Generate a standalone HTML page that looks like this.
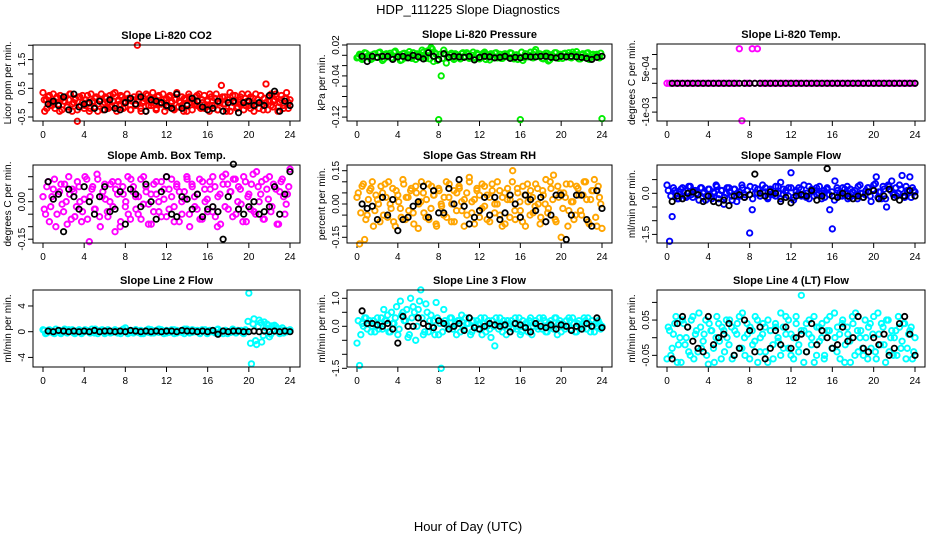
<!DOCTYPE html>
<html><head><meta charset="utf-8"><style>
body{margin:0;background:#fff;}
svg{display:block;font-family:"Liberation Sans",sans-serif;}
</style></head><body>
<svg id="c" width="936" height="540" viewBox="0 0 936 540">
<text x="468" y="14" text-anchor="middle" font-size="13">HDP_111225  Slope Diagnostics</text>
<text x="468" y="531" text-anchor="middle" font-size="13">Hour of Day (UTC)</text>
</svg>
<script>
const xTicks=[0,4,8,12,16,20,24];
const titles=["Slope Li-820 CO2","Slope Li-820 Pressure","Slope Li-820 Temp.","Slope Amb. Box Temp.","Slope Gas Stream RH","Slope Sample Flow","Slope Line 2 Flow","Slope Line 3 Flow","Slope Line 4 (LT) Flow"];
const yTitles=["Licor ppm per min.","kPa per min.","degrees C per min.","degrees C per min.","percent per min.","ml/min per min.","ml/min per min.","ml/min per min.","ml/min per min."];
const yTickVals=[[-0.5,0,0.5,1,1.5,2],[0.02,0,-0.02,-0.04,-0.06,-0.08,-0.1,-0.12],[-0.001,-0.0005,0,0.0005,0.001],[-0.15,-0.1,-0.05,0,0.05,0.1],[-0.15,-0.1,-0.05,0,0.05,0.1,0.15],[-1.5,-1,-0.5,0,0.5],[-4,0,4],[-1.5,-1,-0.5,0,0.5,1],[-0.05,0,0.05,0.1]];
const yTickLabels=[["-0.5","","0.5","","1.5",""],["0.02","","","-0.04","","","","-0.12"],["-1e-03","","","5e-04",""],["-0.15","","","0.00","",""],["-0.15","","","0.00","","","0.15"],["-1.5","","","0.0",""],["-4","0","4"],["-1.5","","","0.0","","1.0"],["-0.05","","0.05",""]];
const s1=[0.35,-0.3,0.1,0.2,-0.1,0.0,0.3,-0.2,0.15,-0.05,0.25,-0.25,0.05,0.2,-0.15,0.1,0.3,-0.3,0.0,0.15,-0.65,0.2,-0.1,0.25,-0.2,0.1,0.0,-0.3,0.3,0.05,-0.15,0.2,-0.05,0.1,0.3,-0.25,0.0,0.15,-0.2,0.25,-0.1,0.05,0.35,-0.3,0.1,-0.05,0.2,0.0,-0.15,0.3,0.1,-0.25,0.05,0.2,-0.1,2.0,0.3,-0.2,0.0,0.15,-0.3,0.25,0.05,-0.1,0.35,0.1,-0.25,0.2,-0.05,0.0,0.3,-0.3,0.15,-0.1,0.25,0.05,-0.2,0.1,0.35,-0.15,0.0,0.2,-0.3,0.1,-0.05,0.3,0.15,-0.25,0.05,0.2,-0.1,0.3,-0.2,0.0,0.25,-0.15,0.1,-0.3,0.2,0.05,-0.1,0.3,-0.25,0.15,0.6,-0.05,0.2,-0.3,0.1,0.35,-0.15,0.0,0.25,-0.2,0.1,-0.05,0.3,-0.25,0.15,0.05,-0.1,0.2,0.0,-0.3,0.3,0.1,-0.2,0.25,-0.05,0.15,0.65,-0.25,0.05,0.3,-0.15,0.1,0.2,-0.3,0.0,0.25,-0.1,0.15,0.35,-0.2,0.1];
const s2=[-0.005,0.002,-0.008,0.005,-0.002,0.0,-0.006,0.003,-0.004,0.006,-0.01,0.001,-0.003,0.004,-0.007,0.008,-0.002,-0.01,0.003,-0.005,0.001,-0.004,0.005,-0.008,0.0,-0.003,0.006,-0.006,0.009,0.015,-0.012,0.002,-0.125,-0.04,0.01,-0.015,-0.003,0.004,-0.008,0.001,-0.005,0.003,-0.002,0.005,-0.006,0.0,-0.004,0.004,-0.007,0.002,0.006,-0.003,-0.009,0.001,0.004,-0.005,0.002,-0.006,0.003,-0.002,0.005,-0.004,0.0,-0.008,-0.125,-0.01,0.003,-0.003,0.006,-0.005,0.011,-0.002,0.002,-0.007,0.004,-0.011,0.001,-0.004,0.005,-0.006,0.0,0.003,-0.003,0.005,-0.005,0.002,0.007,-0.007,0.001,-0.004,0.004,-0.008,0.0,-0.003,0.002,-0.005,-0.123];
const s3=[0,0,0,0,0,0,0,0,0,0,0,0,0,0,0,0,0,0,0,0,0,0,0,0,0,0,0,0,0.0012,-0.0013,0,0,0,0.0012,0,0.0012,0,0,0,0,0,0,0,0,0,0,0,0,0,0,0,0,0,0,0,0,0,0,0,0,0,0,0,0,0,0,0,0,0,0,0,0,0,0,0,0,0,0,0,0,0,0,0,0,0,0,0,0,0,0,0,0,0,0,0,0,0];
const s4=[0.02,-0.05,0.08,-0.02,0.05,-0.1,0.03,0.07,-0.04,0.0,0.1,-0.07,0.04,-0.02,0.06,-0.08,0.01,0.09,-0.16,0.05,-0.03,0.11,-0.06,0.02,0.07,-0.04,0.0,0.08,-0.12,0.03,-0.1,0.06,-0.02,0.1,-0.07,0.04,0.02,-0.05,0.09,-0.01,0.06,-0.09,0.03,-0.04,0.08,0.0,-0.06,0.05,0.1,-0.03,0.02,-0.08,0.07,0.04,-0.05,0.01,0.09,-0.1,0.06,-0.02,0.03,-0.07,0.08,0.0,-0.04,0.05,0.1,-0.06,0.02,-0.09,0.07,0.11,-0.03,0.04,0.09,-0.05,0.06,-0.01,0.1,-0.08,0.03,0.07,-0.04,0.12,0.0,0.08,-0.07,0.05,0.1,-0.02,0.06,-0.09,0.04,0.09,-0.05,0.03,0.13];
const s5=[0.03,-0.18,0.08,-0.16,-0.05,0.06,0.1,-0.03,0.02,-0.08,0.05,0.09,-0.06,0.0,0.07,-0.1,0.04,-0.02,0.11,-0.07,0.03,0.06,-0.04,0.08,-0.11,0.01,0.05,-0.06,0.09,-0.02,0.04,-0.09,0.07,0.0,-0.05,0.1,0.03,-0.08,0.06,-0.03,0.08,0.01,-0.1,0.05,0.12,-0.04,0.02,0.07,-0.06,0.09,-0.01,0.04,-0.08,0.06,0.0,0.1,-0.05,0.03,-0.09,0.07,0.02,0.15,-0.07,0.05,-0.03,0.08,-0.1,0.01,0.06,-0.04,0.09,0.0,-0.06,0.04,0.11,-0.02,0.07,0.13,-0.08,0.03,-0.15,0.05,0.09,-0.03,0.01,-0.07,0.08,0.04,-0.05,0.1,0.02,-0.09,0.06,0.11,-0.1,0.03,-0.11];
const s6=[0.3,-1.75,-0.85,0.1,-0.2,0.05,0.2,-0.1,0.0,0.25,-0.15,0.1,-0.05,0.2,0.0,-0.25,0.15,-0.1,0.05,0.3,-0.2,0.1,-0.4,0.0,0.2,-0.1,0.15,-0.3,0.05,0.3,-0.15,0.1,-1.45,-0.6,0.2,0.0,-0.1,0.3,0.05,-0.2,0.15,0.0,-0.1,0.25,0.4,-0.05,0.1,0.2,0.75,-0.15,0.05,0.2,-0.1,0.3,0.0,-0.2,0.15,0.1,-0.05,0.25,0.0,-0.15,0.2,-0.6,-1.3,0.45,0.1,-0.1,0.2,0.0,-0.2,0.15,0.05,-0.1,0.25,0.0,-0.15,0.1,0.2,-0.3,0.3,0.6,0.05,-0.2,0.15,-0.5,0.25,0.45,0.0,-0.1,0.3,0.65,-0.15,0.1,0.6,0.2,0.05];
const s7=[0.3,-0.3,0.2,0.0,-0.2,0.4,0.1,-0.3,0.2,-0.1,0.3,0.0,-0.2,0.1,0.3,-0.3,0.0,0.2,-0.1,0.4,-0.2,0.1,0.0,0.3,-0.3,0.2,0.1,-0.1,0.3,-0.2,0.0,0.2,0.6,-0.3,0.1,0.0,0.3,-0.1,0.2,-0.3,0.1,0.4,-0.2,0.0,0.2,-0.1,0.3,0.0,-0.2,0.1,0.3,-0.3,0.2,0.0,-0.1,0.4,0.1,-0.2,0.3,0.0,0.2,-0.3,0.1,0.3,-0.1,0.0,0.2,-0.2,0.4,0.1,-0.3,0.2,0.0,-0.1,0.3,-0.2,0.1,0.2,-0.3,0.0,6.0,-5.0,2.0,-2.0,1.8,-1.6,1.5,1.2,-0.8,0.9,1.0,0.5,-0.3,0.6,0.2,0.0,0.3];
const s8=[-0.6,-1.4,0.1,0.3,-0.1,0.2,0.0,-0.2,0.3,0.1,-0.1,0.2,0.4,-0.2,0.1,0.3,-0.3,0.9,0.5,0.2,-0.4,1.0,0.7,-0.5,0.6,1.3,-0.3,0.8,-0.2,0.4,0.2,0.85,-0.3,-1.5,0.6,0.1,-0.1,0.3,0.0,-0.3,0.2,0.4,-0.1,0.1,0.3,-0.2,0.0,0.2,0.1,-0.3,0.3,0.0,-0.1,0.2,-0.7,0.1,0.3,-0.2,0.0,0.2,0.1,-0.1,0.3,0.0,-0.3,0.2,0.1,-0.2,0.3,0.0,0.2,-0.1,0.1,0.3,-0.2,0.0,0.2,-0.1,0.3,0.1,-0.2,0.0,0.2,0.3,-0.1,0.1,-0.2,0.2,0.0,0.3,-0.1,0.1,0.2,-0.2,0.0,0.1,0.0];
const s9=[-0.06,0.02,-0.03,0.04,-0.07,0.0,0.05,-0.02,0.03,-0.05,0.06,0.01,-0.04,0.03,-0.01,0.05,-0.075,0.02,-0.03,0.0,0.04,-0.06,0.02,0.05,-0.02,0.03,-0.05,0.01,0.06,-0.03,0.0,0.04,-0.06,0.02,-0.01,0.05,-0.04,0.01,0.03,-0.07,0.02,-0.02,0.04,0.0,-0.05,0.03,0.06,-0.03,0.01,-0.06,0.04,-0.02,0.12,0.02,-0.04,0.05,0.0,-0.07,0.03,-0.01,0.04,-0.05,0.02,0.06,-0.03,0.0,0.03,-0.06,0.05,-0.02,0.01,-0.07,0.04,0.07,-0.04,0.02,-0.05,0.0,0.03,-0.03,0.06,-0.06,0.01,0.04,-0.02,0.05,-0.04,0.02,0.0,-0.05,0.03,-0.01,0.04,-0.03,0.02,-0.06,0.0];
const t1=[0.1,-0.2,0.25,-0.1,0.0,0.2,-0.3,0.15,0.05,-0.15,0.3,-0.05,0.1,-0.25,0.2,0.0,-0.1,0.25,-0.2,0.05,0.15,-0.3,0.1,-0.05,0.2,0.0,-0.15,0.3,-0.1,0.05,0.25,-0.2,0.0,0.15,-0.25,0.1,-0.05,0.2,-0.3,0.05,0.3,-0.1,0.0,0.15,-0.2,0.25,-0.05,0.1,-0.15,0.2,0.0,-0.25,0.3,0.05,-0.1,0.15,-0.3,0.2,0.0,-0.05,0.25,-0.15,0.1,-0.2,0.05,0.3,-0.1,0.15,-0.25,0.0,0.2,-0.05,0.1,-0.3,0.25,0.05,-0.15,0.2,0.0,-0.1,0.3,-0.2,0.15,-0.05,0.1,0.25,-0.25,0.0,0.2,-0.1,0.05,0.3,-0.15,0.1,-0.2,0.15,0.0];
const t2=[-0.003,0.001,-0.006,0.004,-0.001,-0.008,0.002,-0.004,0.005,-0.002,-0.007,0.003,0.0,-0.005,0.006,-0.003,0.001,-0.009,0.004,-0.002,0.007,-0.006,0.0,0.003,-0.004,0.01,-0.001,0.008,-0.007,0.012,0.005,-0.01,0.002,-0.006,0.004,-0.003,0.001,-0.005,0.003,0.0,-0.007,0.005,-0.002,0.002,-0.004,0.006,-0.006,0.001,-0.003,0.004,-0.008,0.0,0.003,-0.005,0.005,-0.002,-0.006,0.002,0.0,-0.004,0.004,-0.007,0.001,-0.003,0.006,-0.005,0.002,0.0,-0.004,0.007,-0.002,0.003,-0.006,0.001,0.004,-0.009,0.0,0.005,-0.003,0.002,-0.006,0.004,0.0,-0.004,0.006,-0.002,0.001,-0.007,0.003,-0.001,0.005,-0.004,0.002,0.0,-0.003,0.004];
const t3=[];
const t4=[-0.03,0.06,-0.08,0.02,0.09,-0.05,0.04,-0.01,0.07,-0.09,0.03,0.05,-0.06,0.08,0.0,-0.04,0.1,-0.07,0.02,0.06,-0.03,0.09,-0.1,0.04,0.01,-0.06,0.07,-0.02,0.05,0.08,-0.08,0.03,0.0,-0.05,0.09,0.06,-0.03,0.02,-0.07,0.1,0.04,-0.01,-0.09,0.07,0.03,-0.04,0.08,0.01,-0.06,0.05,0.09,-0.02,0.06,-0.08,0.0,0.04,0.1,-0.05,0.07,0.02,-0.03,0.09,-0.07,0.05,0.01,0.08,-0.04,0.06,-0.1,0.03,0.1,-0.02,0.07,0.04,-0.06,0.09,0.0,0.05,-0.08,0.08,0.02,-0.03,0.11,-0.05,0.06,0.03,-0.07,0.09,0.01,-0.04,0.07,0.05,-0.09,0.08,0.02,-0.01,0.06];
const t5=[0.05,-0.04,0.09,-0.07,0.02,0.07,-0.1,0.04,0.0,0.08,-0.05,0.03,0.1,-0.02,-0.08,0.06,0.01,-0.06,0.09,0.03,-0.03,0.07,-0.09,0.05,0.0,0.1,-0.04,0.02,-0.07,0.08,0.04,-0.1,0.06,-0.01,0.03,-0.06,0.09,0.0,-0.08,0.05,0.07,-0.03,0.02,-0.05,0.1,0.01,-0.09,0.06,0.04,-0.02,0.08,-0.07,0.03,0.09,-0.04,0.0,0.06,-0.1,0.05,0.02,-0.06,0.1,-0.03,0.07,0.01,-0.08,0.04,0.09,-0.05,0.03,-0.01,0.07,-0.09,0.06,0.0,-0.04,0.1,0.02,-0.07,0.08,0.05,-0.02,0.03,-0.1,0.09,0.01,-0.05,0.07,-0.03,0.04,0.1,-0.08,0.02,0.06,-0.06,0.08,0.0];
const t6=[0.1,-0.1,0.2,0.0,-0.2,0.15,0.05,-0.15,0.25,-0.05,0.1,0.0,-0.25,0.2,0.05,-0.1,0.15,-0.2,0.0,0.25,-0.05,0.1,-0.15,0.2,0.05,-0.25,0.15,0.0,-0.1,0.2,-0.05,0.1,0.25,-0.2,0.0,0.15,-0.1,0.05,0.2,-0.15,0.1,-0.05,0.25,0.0,-0.2,0.15,0.05,-0.1,0.2,-0.25,0.1,0.0,0.15,-0.05,-0.15,0.25,0.05,-0.1,0.2,0.0,-0.2,0.1,0.15,-0.05,0.05,-0.25,0.2,0.0,-0.1,0.15,0.25,-0.15,0.05,0.1,-0.2,0.3,0.0,-0.05,0.2,-0.1,0.15,0.35,-0.15,0.05,0.25,-0.2,0.3,0.1,-0.05,0.2,0.0,0.15,-0.1,0.25,0.05,-0.15,0.1];
const t7=[0.2,-0.2,0.3,0.1,-0.3,0.0,0.2,-0.1,0.4,-0.2,0.1,0.3,-0.3,0.0,0.2,-0.1,0.3,0.1,-0.2,0.0,0.4,-0.3,0.2,0.1,-0.1,0.3,-0.2,0.0,0.2,0.1,-0.3,0.4,0.0,-0.1,0.2,-0.2,0.3,0.1,-0.3,0.0,0.2,-0.1,0.3,-0.2,0.1,0.4,0.0,-0.3,0.2,-0.1,0.1,0.3,-0.2,0.0,0.2,-0.3,0.4,0.1,-0.1,0.2,0.0,-0.2,0.3,0.1,-0.3,0.2,0.0,-0.1,0.3,-0.2,0.1,0.2,-0.3,0.0,0.4,-0.1,0.2,0.1,-0.2,0.3,1.6,-1.8,1.2,-1.4,0.8,1.4,-0.6,0.6,1.0,-0.4,0.4,0.8,0.0,0.3,-0.2,0.2,0.1];
const t8=[0.2,-0.3,0.0,0.3,0.1,-0.2,0.2,0.0,-0.1,0.3,0.6,0.2,-0.2,0.5,0.1,0.7,-0.1,0.4,0.2,0.6,-0.3,0.3,0.5,0.0,0.9,0.3,-0.2,0.5,0.2,0.0,-0.3,0.3,0.1,-0.2,0.2,0.0,0.3,-0.1,0.1,0.2,-0.2,0.0,0.3,0.1,-0.3,0.2,0.0,-0.1,0.3,0.1,-0.2,0.2,-0.4,0.0,0.3,-0.1,0.1,0.2,-0.3,0.0,0.2,0.1,-0.1,0.3,-0.2,0.0,0.1,0.2,-0.3,0.1,0.0,0.3,-0.1,0.2,-0.2,0.1,0.0,0.3,-0.3,0.2,0.1,-0.1,0.0,0.2,0.3,-0.2,0.1,0.0,-0.1,0.2,0.3,-0.2,0.0,0.1,0.2,-0.1];
const t9=[0.03,-0.05,0.01,0.06,-0.02,-0.07,0.04,0.0,-0.04,0.05,-0.06,0.02,0.07,-0.03,0.01,-0.05,0.04,0.02,-0.07,0.06,-0.01,0.03,-0.04,0.0,0.05,-0.06,0.02,0.04,-0.03,0.07,-0.05,0.01,0.03,-0.02,0.06,-0.07,0.0,0.04,-0.04,0.05,0.02,-0.06,0.03,-0.01,0.07,-0.03,0.01,0.05,-0.05,0.0,0.06,-0.04,0.02,-0.07,0.04,0.01,-0.02,0.06,-0.05,0.03,0.0,-0.06,0.05,0.02,-0.03,0.07,-0.04,0.01,0.04,-0.07,0.03,-0.01,0.06,-0.05,0.02,0.0,-0.03,0.05,-0.06,0.04,0.01,-0.04,0.07,-0.02,0.03,-0.07,0.05,0.0,-0.05,0.02,0.06,-0.03,0.04,-0.06,0.01,0.03,-0.04];
const k1=[-0.05,0.05,-0.1,0.2,-0.25,0.3,-0.15,-0.05,0.0,-0.2,0.05,-0.25,0.1,-0.2,-0.25,0.0,0.15,-0.05,0.2,-0.3,0.1,0.05,0.0,-0.1,-0.2,0.3,-0.2,-0.1,0.15,0.05,-0.15,-0.25,-0.2,0.05,-0.3,0.0,0.05,-0.35,0.0,0.05,-0.1,0.0,-0.1,0.25,0.4,-0.3,0.05,-0.1];
const k2=[-0.002,-0.012,-0.002,-0.004,-0.002,-0.002,-0.008,-0.003,-0.002,-0.005,0.0,-0.003,-0.007,0.005,-0.002,-0.008,0.003,-0.004,-0.002,-0.003,-0.004,-0.002,-0.009,-0.004,-0.002,-0.003,-0.005,-0.004,-0.002,-0.006,-0.004,-0.005,-0.002,-0.003,-0.003,-0.002,-0.002,-0.004,-0.005,-0.002,-0.003,-0.002,-0.003,-0.004,-0.006,-0.008,-0.004,-0.002];
const k3=[0,0,0,0,0,0,0,0,0,0,0,0,0,0,0,0,0,0,0,0,0,0,0,0,0,0,0,0,0,0,0,0,0,0,0,0,0,0,0,0,0,0,0,0,0,0,0,0];
const k4=[0.08,0.01,0.03,-0.12,0.05,0.02,-0.03,0.06,0.0,-0.05,0.02,0.06,-0.04,-0.03,0.04,-0.09,0.05,0.03,-0.02,0.07,0.0,-0.07,0.04,0.1,-0.05,-0.06,0.02,0.01,-0.03,0.03,-0.06,-0.03,-0.02,-0.04,-0.15,0.02,0.15,-0.03,-0.05,-0.02,0.0,-0.05,-0.04,-0.02,0.06,-0.05,0.03,0.12];
const k5=[0.0,-0.02,-0.01,-0.07,0.03,-0.05,0.02,-0.12,-0.07,-0.06,-0.01,0.01,0.08,-0.06,0.06,-0.04,-0.04,0.07,0.0,0.11,-0.01,-0.09,-0.06,-0.03,0.03,-0.05,0.03,-0.07,-0.04,0.04,0.0,-0.06,0.04,0.02,-0.03,0.03,-0.08,-0.05,0.04,0.04,-0.16,-0.05,0.04,0.04,-0.07,-0.1,0.06,-0.02];
const k6=[-0.3,-0.1,-0.2,0.0,0.05,-0.05,-0.3,-0.1,-0.3,-0.35,-0.25,-0.45,-0.1,-0.05,-0.15,-0.05,0.7,0.0,-0.1,0.05,0.0,-0.3,-0.15,-0.35,-0.1,-0.05,-0.1,0.1,-0.25,-0.1,0.9,-0.1,-0.15,0.0,-0.1,-0.2,-0.1,-0.15,0.05,0.1,-0.2,-0.1,0.15,-0.15,-0.25,-0.1,0.1,-0.1];
const k7=[0.1,0.0,0.2,0.1,0.0,0.1,0.0,0.1,0.0,0.2,0.0,0.1,0.1,0.0,0.1,0.0,0.2,0.1,0.0,0.1,0.0,0.1,0.0,0.1,0.1,0.0,0.2,0.1,0.1,0.0,0.1,0.0,0.2,-0.4,0.1,0.0,0.1,0.1,0.0,0.0,0.1,0.0,0.1,0.0,0.1,0.0,0.1,0.0];
const k8=[0.55,0.1,0.1,0.05,0.0,0.1,-0.1,-0.6,0.35,0.0,0.0,0.3,0.1,0.0,-0.05,0.2,0.1,-0.1,0.0,0.1,-0.15,0.3,-0.05,-0.1,0.0,0.1,0.05,0.0,0.05,-0.2,0.1,0.05,-0.05,-0.2,0.1,0.0,-0.05,0.05,-0.1,0.05,0.0,-0.15,0.0,-0.1,0.1,0.0,0.3,-0.05];
const k9=[-0.06,0.04,0.06,0.03,-0.01,-0.03,-0.04,0.06,-0.02,0.0,0.01,0.04,-0.05,-0.03,0.05,0.02,-0.04,0.03,-0.06,-0.03,0.02,-0.02,0.03,-0.03,0.0,0.01,-0.04,0.04,-0.02,0.02,0.0,-0.03,-0.02,0.03,-0.01,0.0,0.06,-0.03,-0.04,0.0,-0.02,0.01,-0.05,-0.03,0.04,0.06,0.01,-0.05];
const colouredSeries=[s1,s2,s3,s4,s5,s6,s7,s8,s9];
const colouredSeriesB=[t1,t2,t3,t4,t5,t6,t7,t8,t9];
const blackSeries=[k1,k2,k3,k4,k5,k6,k7,k8,k9];
const colours=["#ff0000","#00ee00","#ff00ff","#ff00ff","#ffa500","#0000ff","#00ffff","#00ffff","#00ffff"];
// layout (not data)
const boxes=[[33,45,300,121],[347,44,612,121],[657,44,925,121],[33,165,300,243],[347,165,612,243],[657,165,925,243],[33,290,300,367],[347,290,612,367],[657,290,925,367]];
const yAnchor=[[-0.5,117,28.7],[0.02,45,515],[0,83.3,28800],[0,201.7,250],[0,204,222],[0,193.3,27.4],[0,331.7,6.43],[0,326.3,28],[0,337.7,353]];
const svg=document.getElementById('c');
const NS='http://www.w3.org/2000/svg';
function mk(tag,attrs,parent){const e=document.createElementNS(NS,tag);for(const k in attrs)e.setAttribute(k,attrs[k]);(parent||svg).appendChild(e);return e;}
for(let p=0;p<9;p++){
  const [L,T,R,B]=boxes[p];
  const g=mk('g',{});
  
  
  const xs=h=>L+10+h*(R-L-20)/24;
  const a=yAnchor[p];
  const ys=v=>a[1]-(v-a[0])*a[2];
  const t=mk('text',{x:(L+R)/2,y:T-6,'text-anchor':'middle','font-size':'11','font-weight':'bold'},g);
  t.textContent=titles[p];
  
  
  const yt=mk('text',{transform:`translate(${L-22},${(T+B)/2}) rotate(-90)`,'text-anchor':'middle','font-size':'10'},g);
  yt.textContent=yTitles[p];
  
  
  xTicks.forEach(h=>{
    mk('line',{x1:xs(h),x2:xs(h),y1:B,y2:B+5,stroke:'#000','stroke-width':1},g);
    const tl=mk('text',{x:xs(h),y:B+17,'text-anchor':'middle','font-size':'10'},g);
    tl.textContent=h;
    
    
  });
  yTickVals[p].forEach((v,i)=>{
    const y=ys(v);
    mk('line',{x1:L-5,x2:L,y1:y,y2:y,stroke:'#000','stroke-width':1},g);
    if(yTickLabels[p][i]){
      const tl=mk('text',{transform:`translate(${L-8},${y}) rotate(-90)`,'text-anchor':'middle','font-size':'10'},g);
      tl.textContent=yTickLabels[p][i];
      
      
    }
  });
  const cs=colouredSeries[p];
  cs.forEach((v,i)=>{
    const c=mk('circle',{cx:xs(i*24/(cs.length-1)),cy:ys(v),r:2.7,fill:'none',stroke:colours[p],'stroke-width':1.9},g);
    
    
  });
  const cb=colouredSeriesB[p];
  cb.forEach((v,i)=>{
    const c=mk('circle',{cx:xs((i+0.5)*24/cb.length),cy:ys(v),r:2.7,fill:'none',stroke:colours[p],'stroke-width':1.9},g);
    
    
  });
  const ks=blackSeries[p];
  ks.forEach((v,i)=>{
    const c=mk('circle',{cx:xs(0.5*(i+1)),cy:ys(v),r:2.7,fill:'none',stroke:'#000','stroke-width':1.8},g);
    
    
  });
  const box=mk('rect',{x:L,y:T,width:R-L,height:B-T,fill:'none',stroke:'#000','stroke-width':1},g);
  
  
}
</script>
</body></html>
